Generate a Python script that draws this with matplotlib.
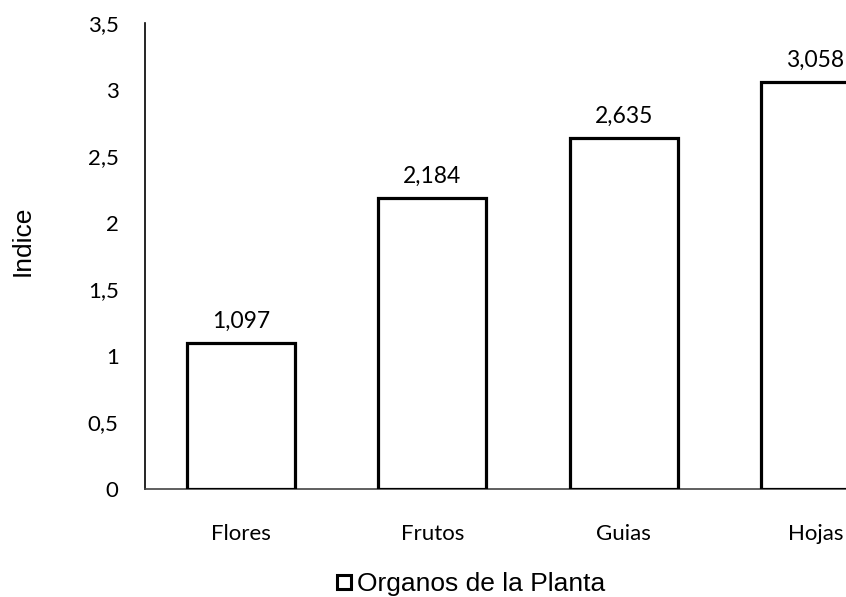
import matplotlib
matplotlib.use("Agg")
import matplotlib.pyplot as plt
from matplotlib.lines import Line2D

organos = ["Flores", "Frutos", "Guias", "Hojas"]
indice = [1.097, 2.184, 2.635, 3.058]
y_ticks = [0, 0.5, 1, 1.5, 2, 2.5, 3, 3.5]
y_tick_labels = ["0", "0,5", "1", "1,5", "2", "2,5", "3", "3,5"]
serie = "Organos de la Planta"

fig = plt.figure(figsize=(8.46, 5.97), dpi=100)
ax = fig.add_axes([0.1714, 0.181, 0.8286, 0.7805])

x = range(len(organos))
ax.bar(x, indice, width=0.565, color="white", edgecolor="black", linewidth=2.3, zorder=3)

for xi, v in zip(x, indice):
    ax.annotate(f"{v:.3f}".replace(".", ","), (xi, v), xytext=(0, 8),
                textcoords="offset points", ha="center", va="bottom",
                fontsize=16.5, family="Lato")

ax.set_xlim(-0.5, 3.16)
ax.set_ylim(0, 3.5)
ax.set_yticks(y_ticks)
ax.set_yticklabels(y_tick_labels, family="Lato", fontsize=16)
ax.set_xticks(list(x))
ax.set_xticklabels(organos, family="Lato", fontsize=16)
ax.tick_params(axis="y", length=0, pad=19)
ax.tick_params(axis="x", length=0, pad=25)

for side in ("top", "right"):
    ax.spines[side].set_visible(False)
ax.spines["left"].set_linewidth(1.2)
ax.spines["bottom"].set_linewidth(1.2)
ax.spines["bottom"].set_color("#444444")

ax.set_ylabel("Indice", family="Liberation Sans", fontsize=19)
ax.yaxis.set_label_coords(-0.158, 0.532)

handle = Line2D([], [], marker="s", linestyle="none", markersize=10.5,
                markerfacecolor="white", markeredgecolor="black", markeredgewidth=2.2)
fig.legend([handle], [serie], loc="center", bbox_to_anchor=(0.556, 0.021),
           frameon=False, prop={"family": "Liberation Sans", "size": 19},
           handletextpad=0.2, handlelength=0.6, borderpad=0.2)

fig.savefig("out.png", dpi=100)
